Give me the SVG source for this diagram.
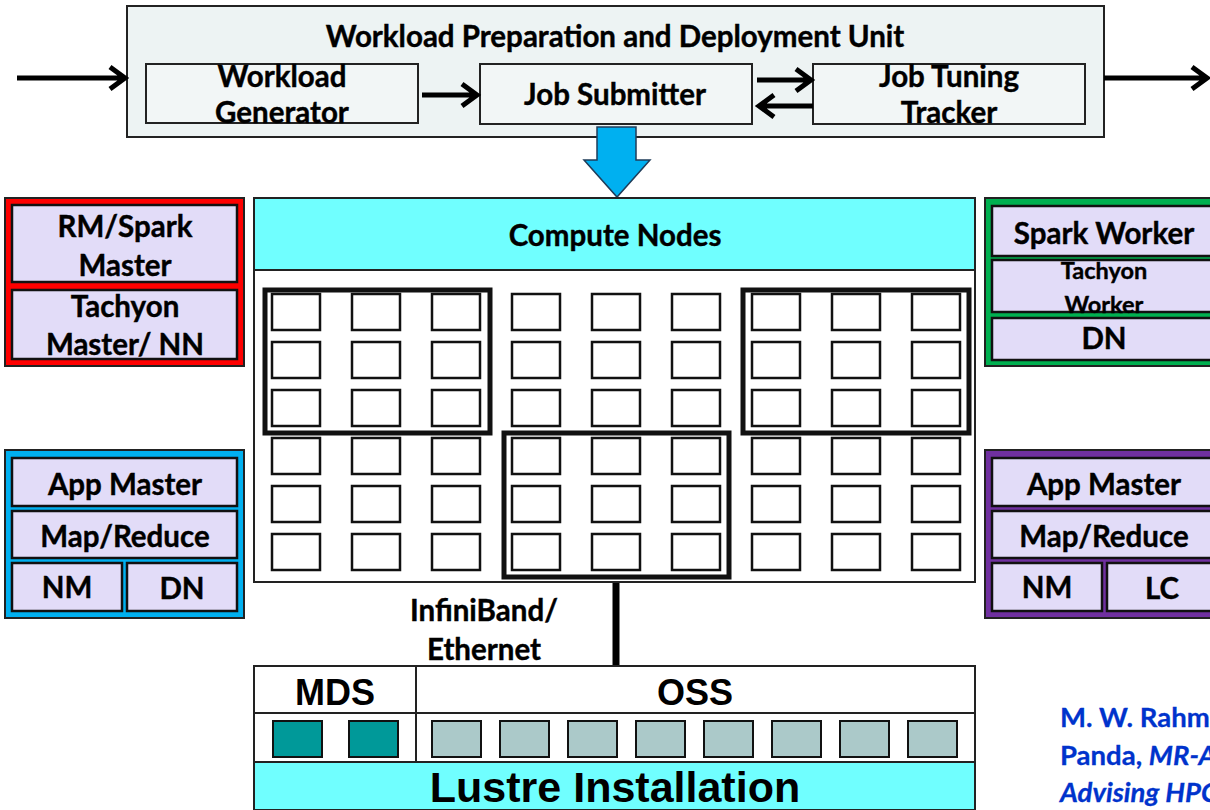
<svg xmlns="http://www.w3.org/2000/svg" width="1210" height="810" viewBox="0 0 1210 810">
<style>
.t{font-family:"Lato","Liberation Sans",sans-serif;font-weight:bold;fill:#000;stroke:#000;stroke-width:0.4;text-anchor:middle;font-size:29.5px}
.t.s{font-size:23.5px}
.n{font-family:"Liberation Sans Narrow","Liberation Sans",sans-serif;font-weight:bold;fill:#000;text-anchor:middle}
.box{stroke:#222;stroke-width:2}
.lav{fill:#e2dcf8;stroke:#111;stroke-width:2.5}
.sq{fill:#fff;stroke:#111;stroke-width:2.5}
.grp{fill:none;stroke:#111;stroke-width:5}
.arr{fill:none;stroke:#000;stroke-width:5}
.cite{font-family:"Lato","Liberation Sans",sans-serif;font-weight:bold;fill:#0033cc;stroke:#0033cc;stroke-width:0.3;font-size:27.5px}
</style>
<rect width="1210" height="810" fill="#fff"/>

<g id="wpdu">
<rect x="127" y="6" width="977" height="131" fill="#edf3f3" class="box"/>
<text class="t" x="615" y="47">Workload Preparation and Deployment Unit</text>
</g>
<g id="workload-generator">
<rect x="146" y="64" width="272" height="59" fill="#f2f6f6" class="box"/>
<text class="t" x="282" y="87">Workload</text>
<text class="t" x="282" y="123">Generator</text>
</g>
<g id="job-submitter">
<rect x="480" y="64" width="272" height="60" fill="#f2f6f6" class="box"/>
<text class="t" x="615" y="105">Job Submitter</text>
</g>
<g id="job-tuning-tracker">
<rect x="813" y="64" width="272" height="60" fill="#f2f6f6" class="box"/>
<text class="t" x="949" y="87">Job Tuning</text>
<text class="t" x="949" y="123">Tracker</text>
</g>

<g id="connectors">
<path class="arr" d="M17,78 H124 M110,67 L125,78 L110,89"/>
<path class="arr" d="M1104,78 H1206 M1192,67 L1207,78 L1192,89"/>
<path class="arr" d="M422,95 H476 M462,84 L477,95 L462,106"/>
<path class="arr" d="M757,80 H810 M796,69 L811,80 L796,91"/>
<path class="arr" d="M813,106 H760 M774,95 L759,106 L774,117"/>
<polygon points="597,127 636,127 636,160 650,160 617,197 584,160 597,160" fill="#00b0f0" stroke="#1f3d5a" stroke-width="1.5"/>
<line x1="616" y1="578" x2="616" y2="666" stroke="#000" stroke-width="7"/>
</g>

<g id="compute-nodes">
<rect x="254" y="198" width="721" height="384" fill="#fff" class="box"/>
<rect x="254" y="198" width="721" height="72" fill="#70ffff" class="box"/>
<text class="t" x="615" y="246">Compute Nodes</text>
<g id="node-grid">
<g transform="translate(272,294)">
<rect class="sq" x="0" y="0" width="48" height="36"/><rect class="sq" x="80" y="0" width="48" height="36"/><rect class="sq" x="160" y="0" width="48" height="36"/><rect class="sq" x="240" y="0" width="48" height="36"/><rect class="sq" x="320" y="0" width="48" height="36"/><rect class="sq" x="400" y="0" width="48" height="36"/><rect class="sq" x="480" y="0" width="48" height="36"/><rect class="sq" x="560" y="0" width="48" height="36"/><rect class="sq" x="640" y="0" width="48" height="36"/>
<rect class="sq" x="0" y="48" width="48" height="36"/><rect class="sq" x="80" y="48" width="48" height="36"/><rect class="sq" x="160" y="48" width="48" height="36"/><rect class="sq" x="240" y="48" width="48" height="36"/><rect class="sq" x="320" y="48" width="48" height="36"/><rect class="sq" x="400" y="48" width="48" height="36"/><rect class="sq" x="480" y="48" width="48" height="36"/><rect class="sq" x="560" y="48" width="48" height="36"/><rect class="sq" x="640" y="48" width="48" height="36"/>
<rect class="sq" x="0" y="96" width="48" height="36"/><rect class="sq" x="80" y="96" width="48" height="36"/><rect class="sq" x="160" y="96" width="48" height="36"/><rect class="sq" x="240" y="96" width="48" height="36"/><rect class="sq" x="320" y="96" width="48" height="36"/><rect class="sq" x="400" y="96" width="48" height="36"/><rect class="sq" x="480" y="96" width="48" height="36"/><rect class="sq" x="560" y="96" width="48" height="36"/><rect class="sq" x="640" y="96" width="48" height="36"/>
<rect class="sq" x="0" y="144" width="48" height="36"/><rect class="sq" x="80" y="144" width="48" height="36"/><rect class="sq" x="160" y="144" width="48" height="36"/><rect class="sq" x="240" y="144" width="48" height="36"/><rect class="sq" x="320" y="144" width="48" height="36"/><rect class="sq" x="400" y="144" width="48" height="36"/><rect class="sq" x="480" y="144" width="48" height="36"/><rect class="sq" x="560" y="144" width="48" height="36"/><rect class="sq" x="640" y="144" width="48" height="36"/>
<rect class="sq" x="0" y="192" width="48" height="36"/><rect class="sq" x="80" y="192" width="48" height="36"/><rect class="sq" x="160" y="192" width="48" height="36"/><rect class="sq" x="240" y="192" width="48" height="36"/><rect class="sq" x="320" y="192" width="48" height="36"/><rect class="sq" x="400" y="192" width="48" height="36"/><rect class="sq" x="480" y="192" width="48" height="36"/><rect class="sq" x="560" y="192" width="48" height="36"/><rect class="sq" x="640" y="192" width="48" height="36"/>
<rect class="sq" x="0" y="240" width="48" height="36"/><rect class="sq" x="80" y="240" width="48" height="36"/><rect class="sq" x="160" y="240" width="48" height="36"/><rect class="sq" x="240" y="240" width="48" height="36"/><rect class="sq" x="320" y="240" width="48" height="36"/><rect class="sq" x="400" y="240" width="48" height="36"/><rect class="sq" x="480" y="240" width="48" height="36"/><rect class="sq" x="560" y="240" width="48" height="36"/><rect class="sq" x="640" y="240" width="48" height="36"/>
</g>
<rect class="grp" x="265" y="290" width="225" height="143"/>
<rect class="grp" x="743" y="290" width="226" height="143"/>
<rect class="grp" x="504" y="433" width="225" height="144"/>
</g>
</g>

<g id="network-label">
<text class="t" x="484" y="621">InfiniBand/</text>
<text class="t" x="484" y="660">Ethernet</text>
</g>

<g id="lustre">
<rect x="254" y="666" width="721" height="144" fill="#fff" class="box"/>
<line x1="254" y1="713" x2="975" y2="713" stroke="#222" stroke-width="2"/>
<line x1="416" y1="666" x2="416" y2="762" stroke="#222" stroke-width="2"/>
<rect x="254" y="762" width="721" height="48" fill="#70ffff" class="box"/>
<text class="n" x="335" y="705" font-size="36">MDS</text>
<text class="n" x="695" y="705" font-size="36">OSS</text>
<text class="n" x="615" y="802" font-size="43">Lustre Installation</text>
<g fill="#009999" stroke="#111" stroke-width="2">
<rect x="273" y="721" width="49" height="36"/><rect x="349" y="721" width="49" height="36"/>
</g>
<g fill="#abc9c9" stroke="#111" stroke-width="2">
<rect x="432" y="721" width="49" height="36"/><rect x="500" y="721" width="49" height="36"/><rect x="568" y="721" width="49" height="36"/><rect x="636" y="721" width="49" height="36"/><rect x="704" y="721" width="49" height="36"/><rect x="772" y="721" width="49" height="36"/><rect x="840" y="721" width="49" height="36"/><rect x="908" y="721" width="49" height="36"/>
</g>
</g>

<g id="master-node">
<rect x="5" y="198" width="239" height="168" fill="#ff0000" class="box"/>
<rect class="lav" x="12" y="205" width="225" height="77"/>
<rect class="lav" x="12" y="290" width="225" height="69"/>
<text class="t" x="125" y="237">RM/Spark</text>
<text class="t" x="125" y="276">Master</text>
<text class="t" x="125" y="317">Tachyon</text>
<text class="t" x="125" y="355">Master/ NN</text>
</g>

<g id="hadoop-node-left">
<rect x="5" y="450" width="239" height="168" fill="#00b0f0" class="box"/>
<rect class="lav" x="12" y="458" width="225" height="48"/>
<rect class="lav" x="12" y="511" width="225" height="47"/>
<rect class="lav" x="12" y="563" width="110" height="48"/>
<rect class="lav" x="127" y="563" width="110" height="48"/>
<text class="t" x="125" y="495">App Master</text>
<text class="t" x="125" y="547">Map/Reduce</text>
<text class="t" x="67" y="598">NM</text>
<text class="t" x="182" y="599">DN</text>
</g>

<g id="spark-worker-node">
<rect x="985" y="198" width="235" height="168" fill="#00b050" class="box"/>
<rect class="lav" x="992" y="206" width="228" height="50"/>
<rect class="lav" x="992" y="260" width="228" height="52"/>
<rect class="lav" x="992" y="318" width="228" height="42"/>
<text class="t" x="1104" y="244">Spark Worker</text>
<text class="t s" x="1104" y="279">Tachyon</text>
<text class="t s" x="1104" y="313">Worker</text>
<text class="t" x="1104" y="349">DN</text>
</g>

<g id="hadoop-node-right">
<rect x="985" y="450" width="235" height="168" fill="#7030a0" class="box"/>
<rect class="lav" x="992" y="458" width="228" height="48"/>
<rect class="lav" x="992" y="511" width="228" height="47"/>
<rect class="lav" x="992" y="563" width="110" height="48"/>
<rect class="lav" x="1107" y="563" width="113" height="48"/>
<text class="t" x="1104" y="495">App Master</text>
<text class="t" x="1104" y="547">Map/Reduce</text>
<text class="t" x="1047" y="598">NM</text>
<text class="t" x="1162" y="599">LC</text>
</g>

<g id="citation">
<text class="cite" x="1060" y="727">M. W. Rahman</text>
<text class="cite" x="1060" y="765">Panda, <tspan font-style="italic">MR-Advisor</tspan></text>
<text class="cite" x="1060" y="802" font-style="italic">Advising HPC</text>
</g>
</svg>
